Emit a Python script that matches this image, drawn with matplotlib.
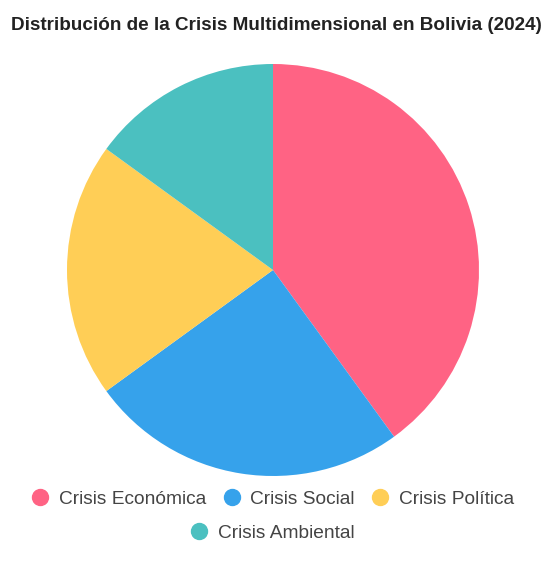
import matplotlib
matplotlib.use("Agg")
import matplotlib.pyplot as plt
from matplotlib.lines import Line2D

plt.rcParams["font.family"] = ["Liberation Sans", "DejaVu Sans"]

categories = ["Crisis Económica", "Crisis Social", "Crisis Política", "Crisis Ambiental"]
values = [40, 25, 20, 15]
colors = ["#FF6384", "#36A2EB", "#FFCE56", "#4BC0C0"]

W, H = 546, 563
fig = plt.figure(figsize=(W / 100, H / 100), dpi=100)
fig.patch.set_facecolor("white")

cx, cy, r = 273, 270, 206
ax = fig.add_axes([(cx - r) / W, 1 - (cy + r) / H, 2 * r / W, 2 * r / H])
ax.pie(values, colors=colors, startangle=90, counterclock=False,
       wedgeprops=dict(linewidth=0), radius=1.0)
ax.set_xlim(-1, 1)
ax.set_ylim(-1, 1)
ax.set_aspect("equal")
ax.axis("off")

fig.text(0.5 + 3 / W, 1 - 26 / H, "Distribución de la Crisis Multidimensional en Bolivia (2024)",
         ha="center", va="center", fontsize=13.55, fontweight="bold", color="#222222")

def handles(idx):
    return [Line2D([], [], marker="o", linestyle="none", markersize=11.5,
                   markerfacecolor=colors[i], markeredgecolor=colors[i],
                   label=categories[i]) for i in idx]

for row, y in [([0, 1, 2], 499), ([3], 533)]:
    leg = fig.legend(handles=handles(row), loc="center", bbox_to_anchor=(0.5, 1 - y / H),
                     ncol=len(row), frameon=False, fontsize=13.8, handletextpad=0.55,
                     columnspacing=0.9, labelcolor="#444444", handlelength=0.85,
                     borderpad=0, borderaxespad=0)

fig.savefig("out.png", dpi=100)
